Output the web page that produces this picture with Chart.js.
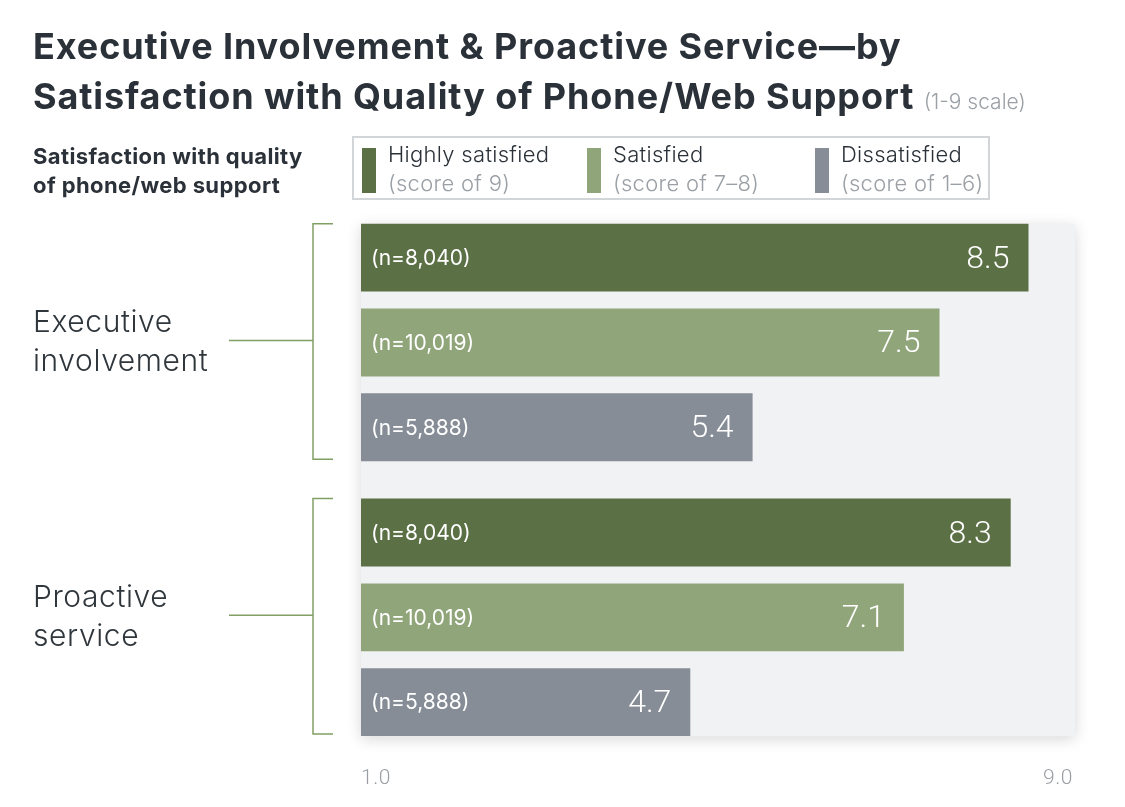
<!DOCTYPE html>
<html>
<head>
<meta charset="utf-8">
<script src="https://cdn.jsdelivr.net/npm/chart.js@4.4.0/dist/chart.umd.min.js"></script>
<style>
  html, body { margin: 0; padding: 0; background: #fff; }
  #wrap { position: relative; width: 1125px; height: 807px; overflow: hidden; font-family: Inter, Roboto, sans-serif; }
  #chart { position: absolute; left: 0; top: 0; }
  .title { position: absolute; left: 33px; top: 21px; font-weight: 700; font-size: 36px; letter-spacing: 0.9px; line-height: 50px; color: #2b3138; white-space: nowrap; }
  .title small { font-weight: 300; font-size: 21px; letter-spacing: 0; color: #9aa0a6; }
  .subhead { position: absolute; left: 33px; top: 142px; font-weight: 700; font-size: 22px; letter-spacing: 0.4px; line-height: 29px; color: #2b3138; }
  #legend { position: absolute; left: 352px; top: 136px; width: 634px; height: 60px; border: 2px solid #d3d6d9; box-sizing: content-box; }
  .item { position: absolute; top: 8px; height: 46px; }
  .sw { position: absolute; left: 0; top: 2px; width: 14px; height: 45px; }
  .lbl { position: absolute; left: 26px; top: -6px; font-weight: 300; font-size: 22px; letter-spacing: 0.3px; line-height: 29px; color: #2b3138; white-space: nowrap; }
  .lbl span { color: #9aa0a6; }
</style>
</head>
<body>
<div id="wrap">
  <canvas id="chart" width="1125" height="807"></canvas>
  <div class="title">Executive Involvement &amp; Proactive Service—by<br>Satisfaction with Quality of Phone/Web Support <small>(1-9 scale)</small></div>
  <div class="subhead">Satisfaction with quality<br>of phone/web support</div>
  <div id="legend"></div>
</div>
<script>
// --- data ---
const categories = [['Executive', 'involvement'], ['Proactive', 'service']];
const seriesNames = ['Highly satisfied', 'Satisfied', 'Dissatisfied'];
const seriesNotes = ['(score of 9)', '(score of 7–8)', '(score of 1–6)'];
const sampleSizes = ['(n=8,040)', '(n=10,019)', '(n=5,888)'];
const highlySatisfied = [8.5, 8.3];
const satisfied = [7.5, 7.1];
const dissatisfied = [5.4, 4.7];
const tickValues = [1, 9];

const seriesColors = ['#5b7044', '#90a67a', '#868d96'];
const legendOffsets = [8, 233, 461];

// legend box
const legendEl = document.getElementById('legend');
seriesNames.forEach((name, i) => {
    const item = document.createElement('div');
    item.className = 'item';
    item.style.left = legendOffsets[i] + 'px';
    item.innerHTML = '<div class="sw" style="background:' + seriesColors[i] + '"></div>' +
        '<div class="lbl">' + name + '<br><span>' + seriesNotes[i] + '</span></div>';
    legendEl.appendChild(item);
});

// grey panel behind the bars + the brackets on the left
const panelPlugin = {
    id: 'panel',
    beforeDraw(chart) {
        chart.ctx.letterSpacing = '0.6px'; // a little air in the group labels
    },
    beforeDatasetsDraw(chart) {
        const ctx = chart.ctx;
        ctx.letterSpacing = '0px';
        const area = chart.chartArea;
        const first = chart.getDatasetMeta(0).data[0];
        const last = chart.getDatasetMeta(chart.data.datasets.length - 1).data[categories.length - 1];
        const top = first.y - first.height / 2;
        const bottom = last.y + last.height / 2;
        ctx.save();
        ctx.shadowColor = 'rgba(0,0,0,0.16)';
        ctx.shadowBlur = 14;
        ctx.shadowOffsetY = 3;
        ctx.fillStyle = '#f1f2f4';
        ctx.fillRect(area.left, top, area.right - area.left + 2, bottom - top);
        ctx.restore();

        // brackets
        ctx.save();
        ctx.strokeStyle = '#819f65';
        ctx.lineWidth = 1.5;
        const nSets = chart.data.datasets.length;
        categories.forEach((c, i) => {
            const b0 = chart.getDatasetMeta(0).data[i];
            const b1 = chart.getDatasetMeta(nSets - 1).data[i];
            const t = b0.y - b0.height / 2;
            const b = b1.y + b1.height / 2 - 2;
            const xv = area.left - 48;
            const mid = chart.scales.y.getPixelForValue(i) - 2;
            ctx.beginPath();
            ctx.moveTo(area.left - 28, t);
            ctx.lineTo(xv, t);
            ctx.lineTo(xv, b);
            ctx.lineTo(area.left - 28, b);
            ctx.moveTo(area.left - 132, mid);
            ctx.lineTo(xv, mid);
            ctx.stroke();
        });
        ctx.restore();
    }
};

// n= labels and values inside the bars
const barLabelPlugin = {
    id: 'barLabels',
    afterDatasetsDraw(chart) {
        const ctx = chart.ctx;
        ctx.save();
        ctx.fillStyle = '#ffffff';
        ctx.textBaseline = 'middle';
        chart.data.datasets.forEach((ds, i) => {
            chart.getDatasetMeta(i).data.forEach((bar, j) => {
                ctx.font = '400 21px Inter';
                ctx.textAlign = 'left';
                ctx.fillText(sampleSizes[i], bar.base + 10, bar.y + 1);
                ctx.font = '300 32px Roboto';
                ctx.textAlign = 'right';
                ctx.fillText(ds.data[j].toFixed(1), bar.x - 19, bar.y + 2);
            });
        });
        ctx.restore();
    }
};

const ctxChart = document.getElementById('chart').getContext('2d');
new Chart(ctxChart, {
    type: 'bar',
    data: {
        labels: categories,
        datasets: [highlySatisfied, satisfied, dissatisfied].map((vals, i) => ({
            label: seriesNames[i],
            data: vals,
            backgroundColor: seriesColors[i],
            borderWidth: 0,
            base: tickValues[0],
            barPercentage: 0.8,
            categoryPercentage: 0.9256
        }))
    },
    options: {
        responsive: false,
        animation: false,
        indexAxis: 'y',
        layout: { padding: { left: 33, right: 52, top: 205, bottom: 5 } },
        scales: {
            x: {
                min: tickValues[0],
                max: tickValues[tickValues.length - 1],
                grid: { display: false, drawTicks: false },
                border: { display: false },
                afterBuildTicks: scale => { scale.ticks = tickValues.map(v => ({ value: v })); },
                ticks: {
                    align: 'inner',
                    padding: 11,
                    color: '#9a9ea3',
                    font: { family: 'Roboto', size: 21, weight: '300' },
                    callback: v => Number(v).toFixed(1)
                }
            },
            y: {
                grid: { display: false, drawTicks: false },
                border: { display: false },
                afterFit: scale => { scale.width = 328; },
                ticks: {
                    crossAlign: 'far',
                    color: '#2f363c',
                    font: { family: 'Inter', size: 30, weight: '300', lineHeight: 1.3 }
                }
            }
        },
        plugins: {
            legend: { display: false },
            tooltip: { enabled: false }
        }
    },
    plugins: [panelPlugin, barLabelPlugin]
});
</script>
</body>
</html>
